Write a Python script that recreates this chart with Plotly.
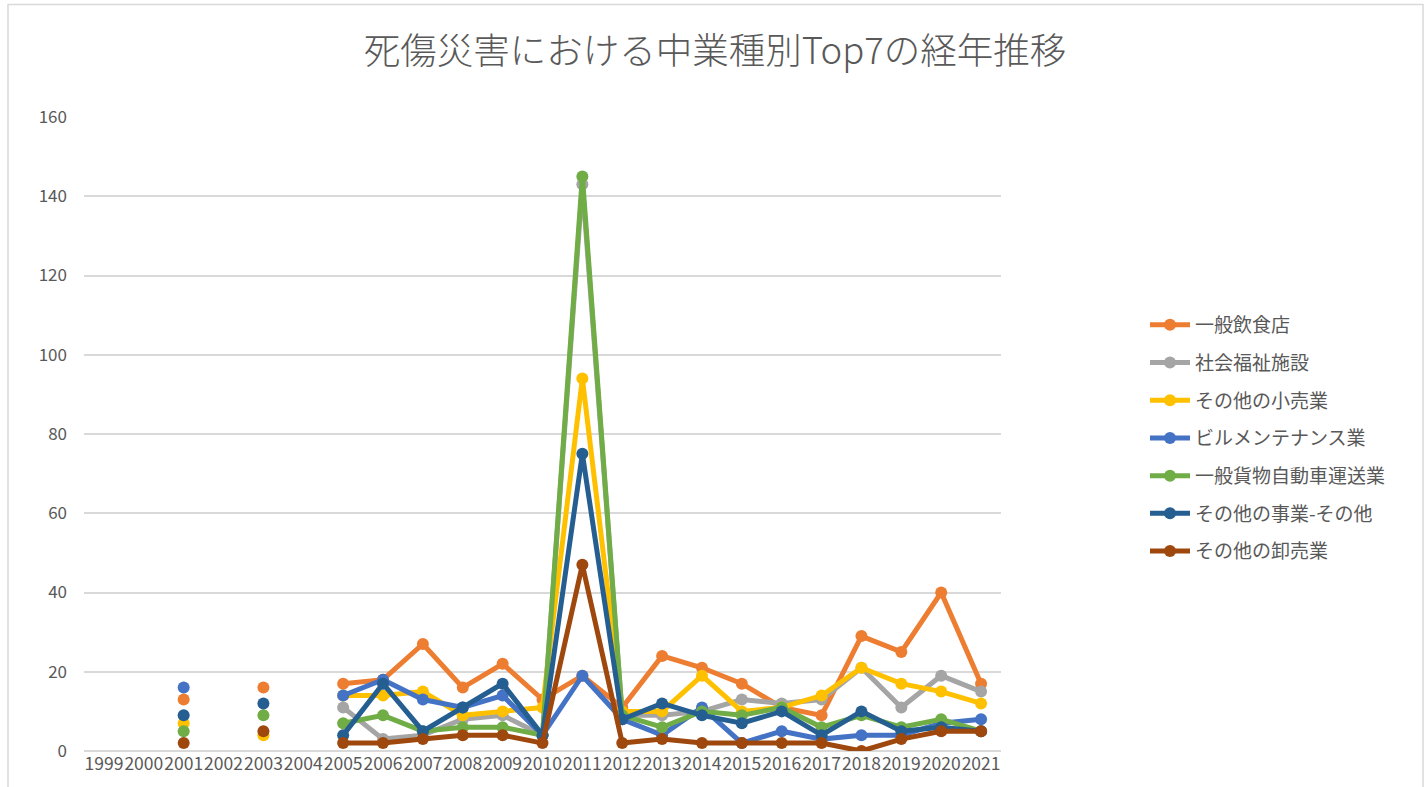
import plotly.graph_objects as go

years = [str(y) for y in range(1999, 2022)]

series_names = [
    "一般飲食店",
    "社会福祉施設",
    "その他の小売業",
    "ビルメンテナンス業",
    "一般貨物自動車運送業",
    "その他の事業-その他",
    "その他の卸売業",
]

# 1999 .. 2021
inshokuten = [None, None, 13, None, 16, None, 17, 18, 27, 16, 22, 13, 19, 11, 24, 21, 17, 11, 9, 29, 25, 40, 17]
fukushi = [None, None, None, None, None, None, 11, 3, 4, 8, 9, 4, 143, 9, 9, 10, 13, 12, 13, 21, 11, 19, 15]
kouri = [None, None, 7, None, 4, None, 14, 14, 15, 9, 10, 11, 94, 10, 10, 19, 10, 11, 14, 21, 17, 15, 12]
biru = [None, None, 16, None, None, None, 14, 18, 13, 11, 14, 4, 19, 8, 4, 11, 2, 5, 3, 4, 4, 7, 8]
kamotsu = [None, None, 5, None, 9, None, 7, 9, 5, 6, 6, 4, 145, 9, 6, 10, 9, 11, 6, 9, 6, 8, 5]
sonota = [None, None, 9, None, 12, None, 4, 17, 5, 11, 17, 4, 75, 8, 12, 9, 7, 10, 4, 10, 5, 6, 5]
oroshi = [None, None, 2, None, 5, None, 2, 2, 3, 4, 4, 2, 47, 2, 3, 2, 2, 2, 2, 0, 3, 5, 5]

series_values = [inshokuten, fukushi, kouri, biru, kamotsu, sonota, oroshi]
colors = ["#ED7D31", "#A5A5A5", "#FFC000", "#4472C4", "#70AD47", "#255E91", "#9E480E"]

y_ticks = [0, 20, 40, 60, 80, 100, 120, 140, 160]

FONT = "Noto Sans CJK JP"
TXT = "#595959"

fig = go.Figure()
for i, (name, vals, col) in enumerate(zip(series_names, series_values, colors)):
    fig.add_trace(go.Scatter(
        x=years, y=vals, name=name, mode="lines+markers",
        line=dict(color=col, width=5),
        marker=dict(color=col, size=12),
        connectgaps=False,
        legendgroup=f"g{i}",
    ))

FW, FH = 1427, 787
# plot-area geometry (pixels)
L, R, T, B = 84, 1001, 117, 751
W, H = R - L, B - T

fig.update_layout(
    width=FW, height=FH,
    margin=dict(l=L, r=FW - R, t=T, b=FH - B),
    paper_bgcolor="white", plot_bgcolor="white",
    font=dict(family=FONT, color=TXT),
    title=dict(
        text="死傷災害における中業種別Top7の経年推移",
        x=715 / FW, xref="container", xanchor="center",
        y=1 - 51 / FH, yref="container", yanchor="middle",
        font=dict(size=36.5, color=TXT, family=FONT, weight=300),
    ),
    xaxis=dict(
        type="category", categoryorder="array", categoryarray=years,
        range=[-0.5, len(years) - 0.5],
        showgrid=False, showline=False, zeroline=False,
        ticks="", tickangle=0,
        tickfont=dict(size=17.5, color=TXT, family=FONT),
        fixedrange=True,
    ),
    yaxis=dict(
        range=[0, 160], tickvals=y_ticks,
        showgrid=True, gridcolor="#D9D9D9", gridwidth=1.5,
        zeroline=True, zerolinecolor="#D9D9D9", zerolinewidth=1.5,
        showline=False, ticks="",
        tickfont=dict(size=17, color=TXT, family=FONT),
        ticklabelstandoff=16,
        fixedrange=True,
    ),
    legend=dict(
        x=(1145 - L) / W, xanchor="left",
        y=(B - 306) / H, yanchor="top",
        font=dict(size=19, color=TXT, family=FONT),
        bgcolor="rgba(0,0,0,0)",
        tracegroupgap=10,
        itemwidth=40,
    ),
    showlegend=True,
)

fig.add_shape(
    type="rect", xref="paper", yref="paper",
    x0=(8 - L) / W, x1=(1423 - L) / W,
    y0=(B - 800) / H, y1=(B - 4.5) / H,
    line=dict(color="#D9D9D9", width=1.5), fillcolor="rgba(0,0,0,0)",
    layer="below",
)

fig.write_html(
    "out.html",
    config={"displayModeBar": False},
    post_script="document.body.style.margin='0';",
)
